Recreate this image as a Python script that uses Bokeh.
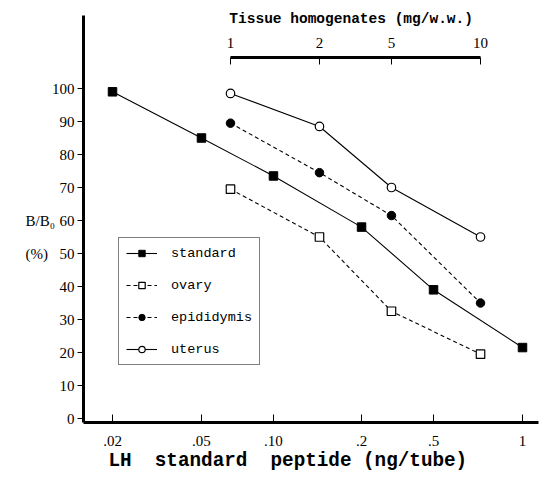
from bokeh.plotting import figure
from bokeh.models import Range1d, LinearAxis, FixedTicker, Legend, LegendItem, Label
from bokeh.embed import file_html
from bokeh.resources import INLINE

# ---- data ----
dose_labels = [".02", ".05", ".10", ".2", ".5", "1"]          # LH standard peptide (ng/tube)
tissue_labels = ["1", "2", "5", "10"]                          # tissue homogenates (mg/w.w.)
y_ticks = [0, 10, 20, 30, 40, 50, 60, 70, 80, 90, 100]

standard = [99, 85, 73.5, 58, 39, 21.5]
ovary = [69.5, 55, 32.5, 19.5]
epididymis = [89.5, 74.5, 61.5, 35]
uterus = [98.5, 88.5, 70, 55]

# ---- the drawn (non-uniform) scale: axis position of every tick ----
dose_pos = [0.0, 1.085, 1.963, 3.037, 3.915, 5.0]
tissue_pos = [1.439, 2.524, 3.402, 4.488]

# axis placement (in axis units)
X_LEFT, X_RIGHT = -0.3537, 5.2
Y_BOTTOM, Y_TOP = -1.21, 122.12
Y_TISSUE_AXIS = 109.4

W, H = 540, 478
p = figure(width=W, height=H, output_backend="svg", toolbar_location=None,
           x_range=Range1d(-1.3659, 5.2195), y_range=Range1d(-18.18, 126.67),
           x_axis_location=None, y_axis_location=None, min_border=0)
p.outline_line_color = None
p.grid.visible = False
p.background_fill_color = "white"
p.border_fill_color = "white"

SERIF = "Liberation Serif"
MONO = "Liberation Mono"
NB = "\u00a0"

# left axis
ya = LinearAxis(fixed_location=X_LEFT, bounds=(Y_BOTTOM, Y_TOP), ticker=FixedTicker(ticks=y_ticks))
ya.axis_line_width = 3
ya.axis_line_color = "black"
ya.major_tick_in = 0
ya.major_tick_out = 6
ya.minor_tick_line_color = None
ya.major_label_standoff = 3
ya.major_label_text_font = SERIF
ya.major_label_text_font_size = "15px"
ya.major_label_text_color = "black"
p.add_layout(ya, "left")

# bottom axis
xa = LinearAxis(fixed_location=Y_BOTTOM, bounds=(X_LEFT, X_RIGHT), ticker=FixedTicker(ticks=dose_pos),
                major_label_overrides={pos: lab for pos, lab in zip(dose_pos, dose_labels)})
xa.axis_line_width = 3
xa.axis_line_color = "black"
xa.major_tick_in = 8
xa.major_tick_out = 0
xa.minor_tick_line_color = None
xa.major_label_standoff = 14
xa.major_label_text_font = SERIF
xa.major_label_text_font_size = "15px"
xa.major_label_text_color = "black"
xa.axis_label = "LH" + NB * 2 + "standard" + NB * 2 + "peptide" + NB + "(ng/tube)" + NB * 4
xa.axis_label_text_font = MONO
xa.axis_label_text_font_style = "bold"
xa.axis_label_text_font_size = "19.3px"
xa.axis_label_text_color = "black"
xa.axis_label_standoff = 0
p.add_layout(xa, "below")

# top axis (tissue homogenates)
top = LinearAxis(fixed_location=Y_TISSUE_AXIS, bounds=(tissue_pos[0], tissue_pos[-1]),
                 ticker=FixedTicker(ticks=tissue_pos),
                 major_label_overrides={pos: lab for pos, lab in zip(tissue_pos, tissue_labels)},
                 axis_label="Tissue homogenates (mg/w.w.)" + NB)
top.axis_line_width = 3
top.axis_line_color = "black"
top.major_tick_in = 7
top.major_tick_out = 0
top.minor_tick_line_color = None
top.major_label_standoff = 9
top.major_label_text_font = SERIF
top.major_label_text_font_size = "15px"
top.major_label_text_color = "black"
top.axis_label_text_font = MONO
top.axis_label_text_font_style = "bold"
top.axis_label_text_font_size = "14.5px"
top.axis_label_text_color = "black"
top.axis_label_standoff = 9
p.add_layout(top, "above")

# series
LW = 1.1
r_std_l = p.line(dose_pos, standard, line_color="black", line_width=LW)
r_std_m = p.scatter(dose_pos, standard, marker="square", size=8.5, fill_color="black", line_color="black")

r_ov_l = p.line(tissue_pos, ovary, line_color="black", line_width=LW, line_dash="4 3")
r_ov_m = p.scatter(tissue_pos, ovary, marker="square", size=8.5, fill_color="white", line_color="black", line_width=1.2)

r_ep_l = p.line(tissue_pos, epididymis, line_color="black", line_width=LW, line_dash="4 3")
r_ep_m = p.scatter(tissue_pos, epididymis, marker="circle", size=8.5, fill_color="black", line_color="black")

r_ut_l = p.line(tissue_pos, uterus, line_color="black", line_width=LW)
r_ut_m = p.scatter(tissue_pos, uterus, marker="circle", size=8.5, fill_color="white", line_color="black", line_width=1.2)

legend = Legend(items=[
    LegendItem(label="standard", renderers=[r_std_l, r_std_m]),
    LegendItem(label="ovary", renderers=[r_ov_l, r_ov_m]),
    LegendItem(label="epididymis", renderers=[r_ep_l, r_ep_m]),
    LegendItem(label="uterus", renderers=[r_ut_l, r_ut_m]),
], location=(118, 113))
legend.margin = 0
legend.padding = 7
legend.spacing = 16
legend.glyph_width = 31
legend.glyph_height = 16
legend.label_height = 16
legend.label_standoff = 14
legend.label_text_font = MONO
legend.label_text_font_size = "13.5px"
legend.label_text_color = "black"
legend.border_line_color = "black"
legend.border_line_width = 1
legend.background_fill_alpha = 1
p.add_layout(legend)

# y-axis caption, aligned with the 60 and 50 rows
p.add_layout(Label(x=25, y=60, x_units="screen", y_units="data", text="B/B\u2080",
                   text_font=SERIF, text_font_size="15px", text_baseline="middle", text_align="left",
                   text_color="black"))
p.add_layout(Label(x=25, y=50, x_units="screen", y_units="data", text="(%)",
                   text_font=SERIF, text_font_size="15px", text_baseline="middle", text_align="left",
                   text_color="black"))

open("out.html", "w").write(file_html(p, INLINE))
